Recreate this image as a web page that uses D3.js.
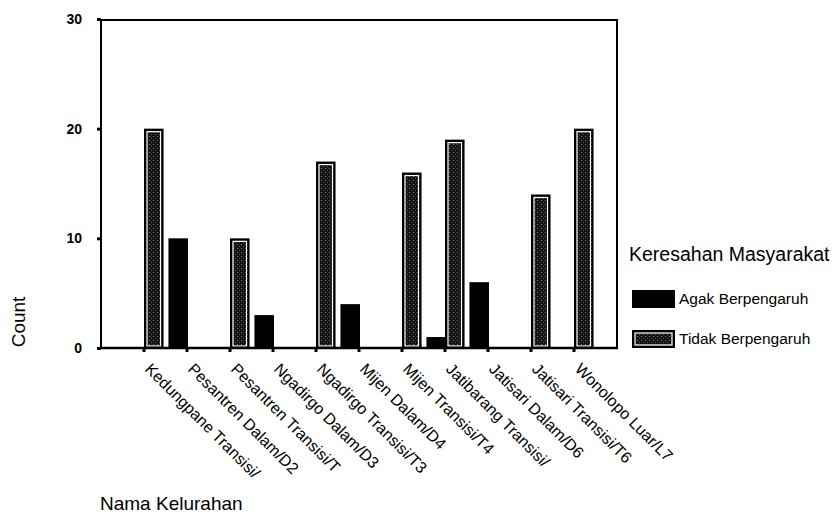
<!DOCTYPE html>
<html><head><meta charset="utf-8">
<script src="https://cdn.jsdelivr.net/npm/d3@7/dist/d3.min.js"></script>
<style>
html,body{margin:0;padding:0;background:#fff;}
svg text{font-family:Arial,"Liberation Sans",Helvetica,sans-serif;fill:#000;}
</style></head>
<body><svg id="c" width="833" height="514"></svg>
<script>
const categories = ["Kedungpane Transisi/", "Pesantren Dalam/D2", "Pesantren Transisi/T", "Ngadirgo Dalam/D3", "Ngadirgo Transisi/T3", "Mijen Dalam/D4", "Mijen Transisi/T4", "Jatibarang Transisi/", "Jatisari Dalam/D6", "Jatisari Transisi/T6", "Wonolopo Luar/L7"];
const seriesNames = ["Tidak Berpengaruh", "Agak Berpengaruh"];
const tidak = [20, 0, 10, 0, 17, 0, 16, 19, 0, 14, 20];
const agak  = [10, 0, 3, 0, 4, 0, 1, 6, 0, 0, 0];
const yTicks = [0, 10, 20, 30];
const legendTitle = "Keresahan Masyarakat";
const legendOrder = ["Agak Berpengaruh", "Tidak Berpengaruh"];

const svg = d3.select("#c");
const L = 101, R = 617, T = 20, B = 348;

// pattern for stippled fill
const defs = svg.append("defs");
const pat = defs.append("pattern").attr("id","stip").attr("patternUnits","userSpaceOnUse")
  .attr("width",4).attr("height",4);
pat.append("rect").attr("width",4).attr("height",4).attr("fill","#141414");
pat.append("rect").attr("x",1).attr("y",0).attr("width",1).attr("height",1).attr("fill","#7a7a7a");
pat.append("rect").attr("x",3).attr("y",2).attr("width",1).attr("height",1).attr("fill","#555");

const x = d3.scaleBand().domain(categories).range([L, R]).paddingInner(0).paddingOuter(0.5).align(1);
const xs = d3.scaleBand().domain(seriesNames).range([0, x.step() + 1]).paddingInner(0.2);
const y = d3.scaleLinear().domain([0, 30]).range([B, 19]);

const data = categories.map((c,i)=>({c, vals:[{s:"Tidak Berpengaruh", v:tidak[i]},{s:"Agak Berpengaruh", v:agak[i]}]}));

// bars
const g = svg.append("g");
data.forEach(d=>{
  d.vals.forEach(e=>{
    if (e.v <= 0) return;
    const x0 = x(d.c) + xs(e.s), w = xs.bandwidth();
    const y0 = y(e.v), h = B - y0;
    g.append("rect").attr("x",x0).attr("y",y0).attr("width",w).attr("height",h).attr("fill","#000");
    if (e.s === "Tidak Berpengaruh") {
      g.append("rect").attr("x",x0+3).attr("y",y0+3).attr("width",w-6).attr("height",h-5)
        .attr("fill","url(#stip)").attr("stroke","#fff").attr("stroke-width",1.2);
    }
  });
});

// frame
svg.append("path").attr("d",`M${L},${B}V${T}H${R}V${B}`).attr("fill","none").attr("stroke","#000").attr("stroke-width",2);
svg.append("line").attr("x1",L-1).attr("x2",R+1).attr("y1",B).attr("y2",B).attr("stroke","#000").attr("stroke-width",2.5);

// y axis
const yAxis = d3.axisLeft(y).tickValues(yTicks).tickSize(4).tickPadding(15).tickFormat(d3.format("d"));
const ya = svg.append("g").attr("transform",`translate(${L},0)`).call(yAxis);
ya.select(".domain").remove();
ya.selectAll(".tick line").attr("stroke","#000").attr("stroke-width",3);
ya.selectAll(".tick text").style("font-size","14px").style("font-weight","bold").attr("fill","#000");

// x axis
const xAxis = d3.axisBottom(x).tickSize(4).tickSizeOuter(0);
const xa = svg.append("g").attr("transform",`translate(0,${B})`).call(xAxis);
xa.select(".domain").remove();
xa.selectAll(".tick").attr("transform", d=>`translate(${x(d)},0)`);
xa.selectAll(".tick line").attr("stroke","#000").attr("stroke-width",3);
xa.selectAll(".tick text").attr("x",0).attr("y",0).attr("dy",0)
  .attr("text-anchor","start")
  .attr("transform","translate(0,22) rotate(45)")
  .style("font-size","16px").attr("fill","#000");

// axis titles
svg.append("text").attr("transform","translate(25,322) rotate(-90)").attr("text-anchor","middle")
  .style("font-size","19px").text("Count");
svg.append("text").attr("x",100).attr("y",510).style("font-size","19px").text("Nama Kelurahan");

// legend
svg.append("text").attr("x",629).attr("y",261).style("font-size","19.5px").text(legendTitle);
const lg = svg.append("g");
legendOrder.forEach((s,i)=>{
  const yy = 290 + i*40;
  lg.append("rect").attr("x",632).attr("y",yy).attr("width",43).attr("height",18).attr("fill","#000");
  if (s === "Tidak Berpengaruh") {
    lg.append("rect").attr("x",635).attr("y",yy+3).attr("width",37).attr("height",12)
      .attr("fill","url(#stip)").attr("stroke","#fff").attr("stroke-width",1.2);
  }
  lg.append("text").attr("x",679).attr("y",yy+9).attr("dy","0.35em").style("font-size","15.5px").text(s);
});
</script></body></html>
